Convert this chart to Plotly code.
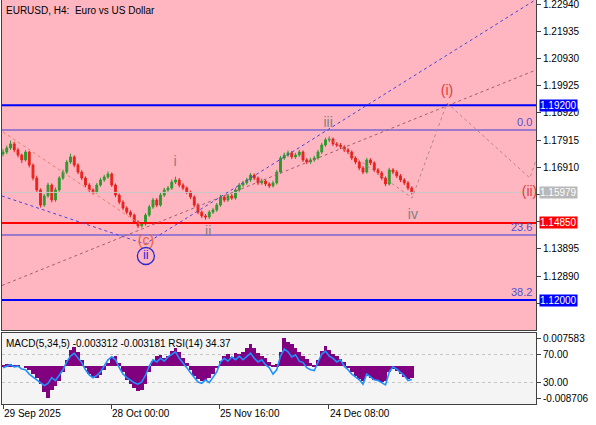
import plotly.graph_objects as go

# ---------------- data ----------------
closes = [1.1747, 1.1762, 1.1777, 1.1755, 1.1736, 1.1718, 1.1747, 1.1699, 1.1651, 1.1607,
          1.1551, 1.1585, 1.1625, 1.1570, 1.1607, 1.1651, 1.1673, 1.1710, 1.1729, 1.1699,
          1.1673, 1.1651, 1.1625, 1.1607, 1.1599, 1.1625, 1.1644, 1.1655, 1.1666, 1.1625,
          1.1588, 1.1562, 1.1540, 1.1525, 1.1514, 1.1489, 1.1474, 1.1481, 1.1514, 1.1544,
          1.1570, 1.1551, 1.1588, 1.1607, 1.1614, 1.1636, 1.1644, 1.1625, 1.1614, 1.1599,
          1.1581, 1.1551, 1.1525, 1.1511, 1.1507, 1.1525, 1.1533, 1.1551, 1.1581, 1.1570,
          1.1585, 1.1577, 1.1607, 1.1625, 1.1633, 1.1644, 1.1662, 1.1651, 1.1633, 1.1640,
          1.1629, 1.1622, 1.1633, 1.1673, 1.1725, 1.1736, 1.1744, 1.1729, 1.1736, 1.1747,
          1.1718, 1.1710, 1.1718, 1.1725, 1.1747, 1.1773, 1.1792, 1.1795, 1.1777, 1.1773,
          1.1766, 1.1755, 1.1747, 1.1725, 1.1710, 1.1688, 1.1673, 1.1718, 1.1707, 1.1681,
          1.1670, 1.1651, 1.1629, 1.1681, 1.1673, 1.1659, 1.1644, 1.1633, 1.1614, 1.15979]
highs = [1.1758, 1.1771, 1.1789, 1.1785, 1.1763, 1.1741, 1.1754, 1.1752, 1.1705, 1.1660,
         1.1613, 1.1592, 1.1634, 1.1631, 1.1616, 1.1658, 1.1682, 1.1718, 1.1741, 1.1735,
         1.1706, 1.1680, 1.1657, 1.1632, 1.1613, 1.1633, 1.1652, 1.1663, 1.1675, 1.1672,
         1.1631, 1.1594, 1.1569, 1.1547, 1.1532, 1.1520, 1.1495, 1.1487, 1.1521, 1.1552,
         1.1578, 1.1577, 1.1596, 1.1615, 1.1622, 1.1645, 1.1656, 1.1651, 1.1632, 1.1620,
         1.1605, 1.1587, 1.1558, 1.1531, 1.1518, 1.1532, 1.1541, 1.1559, 1.1589, 1.1588,
         1.1593, 1.1592, 1.1615, 1.1633, 1.1641, 1.1652, 1.1670, 1.1668, 1.1657, 1.1648,
         1.1646, 1.1635, 1.1641, 1.1681, 1.1733, 1.1745, 1.1753, 1.1751, 1.1744, 1.1755,
         1.1753, 1.1725, 1.1726, 1.1733, 1.1755, 1.1781, 1.1800, 1.1805, 1.1801, 1.1784,
         1.1780, 1.1772, 1.1762, 1.1753, 1.1731, 1.1716, 1.1695, 1.1726, 1.1724, 1.1713,
         1.1688, 1.1677, 1.1657, 1.1689, 1.1688, 1.1680, 1.1666, 1.1651, 1.1640, 1.1621]
lows = [1.1731, 1.1739, 1.1755, 1.1746, 1.1727, 1.1706, 1.1712, 1.1690, 1.1642, 1.1598,
        1.1542, 1.1545, 1.1578, 1.1561, 1.1563, 1.1600, 1.1644, 1.1666, 1.1703, 1.1691,
        1.1665, 1.1643, 1.1617, 1.1599, 1.1590, 1.1593, 1.1619, 1.1637, 1.1648, 1.1618,
        1.1580, 1.1554, 1.1532, 1.1517, 1.1506, 1.1481, 1.1466, 1.1468, 1.1475, 1.1508,
        1.1537, 1.1543, 1.1545, 1.1581, 1.1600, 1.1607, 1.1629, 1.1617, 1.1606, 1.1591,
        1.1573, 1.1543, 1.1517, 1.1503, 1.1497, 1.1500, 1.1518, 1.1526, 1.1545, 1.1562,
        1.1563, 1.1570, 1.1571, 1.1600, 1.1618, 1.1626, 1.1637, 1.1643, 1.1625, 1.1626,
        1.1621, 1.1614, 1.1616, 1.1627, 1.1667, 1.1718, 1.1729, 1.1721, 1.1722, 1.1729,
        1.1710, 1.1702, 1.1703, 1.1711, 1.1719, 1.1740, 1.1766, 1.1784, 1.1769, 1.1765,
        1.1758, 1.1747, 1.1739, 1.1717, 1.1702, 1.1680, 1.1665, 1.1667, 1.1699, 1.1673,
        1.1662, 1.1643, 1.1621, 1.1623, 1.1665, 1.1651, 1.1636, 1.1625, 1.1606, 1.1590]
first_open = 1.1740
opens = [first_open] + closes[:-1]

macd_hist = [0.0003, 0.0005, 0.0005, 0.0003, 0.0003, 0.0000, -0.0003, -0.0011, -0.0022, -0.0033,
             -0.0049, -0.0071, -0.008706, -0.0065, -0.0054, -0.0041, -0.0016, 0.0016, 0.0043, 0.0052,
             0.0038, 0.0016, -0.0005, -0.0022, -0.0030, -0.0033, -0.0024, -0.0011, 0.0008, 0.0024,
             0.0027, 0.0008, -0.0016, -0.0038, -0.0049, -0.0060, -0.0068, -0.0065, -0.0049, -0.0016,
             0.0014, 0.0027, 0.0030, 0.0022, 0.0027, 0.0041, 0.0049, 0.0038, 0.0022, 0.0008,
             -0.0011, -0.0027, -0.0035, -0.0041, -0.0038, -0.0033, -0.0022, -0.0005, 0.0014, 0.0027,
             0.0033, 0.0024, 0.0035, 0.0033, 0.0038, 0.0049, 0.0060, 0.0049, 0.0035, 0.0027,
             0.0022, 0.0011, 0.0003, 0.0005, 0.0038, 0.007583, 0.0065, 0.0060, 0.0049, 0.0038,
             0.0027, 0.0019, 0.0008, 0.0003, 0.0016, 0.0041, 0.0054, 0.0043, 0.0033, 0.0027,
             0.0019, 0.0011, -0.0003, -0.0016, -0.0027, -0.0035, -0.0041, -0.0027, -0.0033, -0.0038,
             -0.0041, -0.0043, -0.0041, -0.0016, -0.0008, -0.0014, -0.0022, -0.0030, -0.0035, -0.003312]
rsi = [50.7, 53, 55, 52, 53, 49, 48, 42, 38, 34,
       30, 26, 29, 37, 33, 40, 48, 59, 67, 71,
       64, 58, 48, 41, 37, 40, 45, 53, 62, 66,
       62, 51, 42, 37, 33, 30, 28, 31, 40, 53,
       62, 59, 64, 60, 66, 69, 73, 64, 58, 51,
       44, 37, 31, 29, 34, 30, 37, 45, 59, 64,
       60, 66, 62, 67, 62, 66, 71, 64, 59, 62,
       55, 51, 42, 48, 67, 77, 73, 66, 69, 60,
       58, 51, 48, 47, 59, 70, 74, 67, 64, 59,
       62, 53, 48, 42, 38, 34, 28, 42, 38, 34,
       33, 30, 27, 45, 52, 49, 45, 40, 33, 34.37]

date_ticks = [0, 28.8, 57.6, 86.9]
date_labels = ["29 Sep 2025", "28 Oct 00:00", "25 Nov 16:00", "24 Dec 08:00"]
price_ticks = [1.22940, 1.21935, 1.20930, 1.19925, 1.18920, 1.17915, 1.16910,
               1.15905, 1.14900, 1.13895, 1.12890, 1.11885]
# labels hidden behind the price boxes on the right
covered_ticks = [1.15905, 1.14900, 1.11885]

level_prices = [1.19200, 1.14850, 1.12000]
level_colors = ["#0000ff", "#ff0000", "#0000ff"]
fib_prices = [1.18285, 1.14405, 1.12000]
fib_labels = ["0.0", "23.6", "38.2"]
bid_price = 1.15979

# trend / wave lines (candle index, price)
blue_x = [-0.27, 37.9, 141.9]
blue_y = [1.15846, 1.14072, 1.23088]
orange_x = [0.0, 37.3]
orange_y = [1.18211, 1.14737]
channel_x = [-0.27, 142.13]
channel_y = [1.12540, 1.20502]
proj_x = [86.7, 109.1, 118.4, 140.5, 142.13]
proj_y = [1.17989, 1.15772, 1.19282, 1.16511, 1.17176]

wave_text = ["i", "ii", "iii", "iv", "(c)", "(i)", "(ii)"]
wave_x = [45.9, 54.7, 86.7, 109.3, 38.1, 118.4, 140.4]
wave_y = [1.1710, 1.1448, 1.1851, 1.1514, 1.1418, 1.1969, 1.1599]
wave_col = ["#808080", "#808080", "#808080", "#808080", "#e8603c", "#e23a3a", "#e23a3a"]
circ_x = [38.1]
circ_y = [1.1363]
circ_text = ["ii"]

X_RANGE = [-0.27, 142.13]
FONT = "Liberation Sans, Arial, sans-serif"

idx = list(range(len(closes)))

fig = go.Figure()

xr = X_RANGE
fig.add_trace(go.Scatter(x=xr, y=[bid_price, bid_price], mode="lines",
                         line=dict(color="#c8c8c8", width=1), hoverinfo="skip"))
for p in fib_prices[:2]:
    fig.add_trace(go.Scatter(x=xr, y=[p, p], mode="lines",
                             line=dict(color="#3c3cdc", width=1.2), hoverinfo="skip"))
for p, c in zip(level_prices, level_colors):
    fig.add_trace(go.Scatter(x=xr, y=[p, p], mode="lines",
                             line=dict(color=c, width=2), hoverinfo="skip"))

fig.add_trace(go.Scatter(x=channel_x, y=channel_y, mode="lines",
                         line=dict(color="#a0606e", width=1, dash="3px,3px"), hoverinfo="skip"))
fig.add_trace(go.Scatter(x=orange_x, y=orange_y, mode="lines",
                         line=dict(color="#e8806a", width=1, dash="3px,3px"), hoverinfo="skip"))
fig.add_trace(go.Scatter(x=blue_x, y=blue_y, mode="lines",
                         line=dict(color="#4444e0", width=1, dash="3px,3px"), hoverinfo="skip"))
fig.add_trace(go.Scatter(x=proj_x, y=proj_y, mode="lines",
                         line=dict(color="#b08888", width=1, dash="3px,3px"), hoverinfo="skip"))

fig.add_trace(go.Candlestick(x=idx, open=opens, high=highs, low=lows, close=closes,
                             increasing=dict(line=dict(color="#2f9a2f", width=1), fillcolor="#2f9a2f"),
                             decreasing=dict(line=dict(color="#e8231e", width=1), fillcolor="#e8231e"),
                             whiskerwidth=0, hoverinfo="skip"))

fig.add_trace(go.Scatter(x=wave_x, y=wave_y, mode="text", text=wave_text,
                         textfont=dict(family=FONT, size=14, color=wave_col), hoverinfo="skip"))
fig.add_trace(go.Scatter(x=circ_x, y=circ_y, mode="markers+text", text=circ_text,
                         marker=dict(symbol="circle-open", size=17, color="#2a2ad0",
                                     line=dict(width=1.3, color="#2a2ad0")),
                         textfont=dict(family=FONT, size=13, color="#2a2ad0"), hoverinfo="skip"))

fig.add_trace(go.Bar(x=idx, y=macd_hist, width=1, marker=dict(color="#800080", line=dict(width=0)),
                     xaxis="x2", yaxis="y2", hoverinfo="skip"))
fig.add_trace(go.Scatter(x=idx, y=rsi, mode="lines", line=dict(color="#1e90ff", width=1.6),
                         xaxis="x2", yaxis="y3", hoverinfo="skip"))

main_dom = [74 / 404, 1]
sub_dom = [0, 71 / 404]
tf = dict(family=FONT, size=10, color="black")

price_ticktext = ["" if v in covered_ticks else f"{v:.5f}" for v in price_ticks]

fig.update_layout(
    width=596, height=425,
    margin=dict(l=2, r=60, t=0, b=21, autoexpand=False),
    paper_bgcolor="white",
    plot_bgcolor="#ffb6c1",
    showlegend=False,
    bargap=0,
    font=tf,
    xaxis=dict(domain=[0, 1], anchor="y", range=X_RANGE, showticklabels=False, ticks="",
               showgrid=False, zeroline=False, showline=True, linecolor="#404040", mirror=True,
               rangeslider=dict(visible=False), automargin=False),
    yaxis=dict(domain=main_dom, anchor="x", side="right", range=[1.10895, 1.23088],
               tickvals=price_ticks, ticktext=price_ticktext, ticklabeloverflow="allow",
               ticks="outside", ticklen=4, tickcolor="#404040", showgrid=False, zeroline=False,
               showline=True, linecolor="#404040", mirror=True, tickfont=tf, automargin=False),
    xaxis2=dict(domain=[0, 1], anchor="y2", range=X_RANGE,
                tickvals=date_ticks, ticktext=date_labels, ticks="outside", ticklen=4,
                tickcolor="#404040", ticklabelposition="outside right", ticklabeloverflow="allow",
                showgrid=False, zeroline=False, showline=True, linecolor="#404040", mirror=True,
                tickfont=tf, automargin=False),
    yaxis2=dict(domain=sub_dom, anchor="x2", side="right", range=[-0.01025, 0.00902],
                tickvals=[0.007583, -0.008706], ticktext=["0.007583", "-0.008706"],
                ticks="outside", ticklen=4, tickcolor="#404040", showgrid=False, zeroline=False,
                showline=True, linecolor="#404040", mirror=True, tickfont=tf, automargin=False),
    yaxis3=dict(overlaying="y2", anchor="x2", side="right", range=[0.31, 99.27],
                tickvals=[70, 30], ticktext=["70.00", "30.00"], ticks="outside", ticklen=4,
                tickcolor="#404040", showgrid=True, gridcolor="#c4c4c4", griddash="dot",
                zeroline=False, tickfont=tf, automargin=False),
)

fig.add_shape(type="rect", xref="x2 domain", yref="y2 domain", x0=0, x1=1, y0=0, y1=1,
              fillcolor="#f4f4f4", line=dict(width=0), layer="below")

annotations = []
annotations.append(dict(xref="paper", yref="paper", x=0, y=1, xanchor="left", yanchor="top",
                        xshift=2, yshift=-3, showarrow=False,
                        text="EURUSD, H4: \u00a0Euro vs US Dollar", font=tf))
annotations.append(dict(xref="paper", yref="paper", x=0, y=sub_dom[1], xanchor="left", yanchor="top",
                        xshift=2, yshift=-3, showarrow=False,
                        text="MACD(5,34,5) -0.003312 -0.003181 RSI(14) 34.37", font=tf))
for p, lab in zip(fib_prices, fib_labels):
    annotations.append(dict(xref="paper", yref="y", x=1, y=p, xanchor="right", yanchor="bottom",
                            xshift=-2, yshift=0, showarrow=False, text=lab,
                            font=dict(family=FONT, size=11, color="#5050d0")))
box_prices = [level_prices[0], bid_price, level_prices[1], level_prices[2]]
box_colors = ["#0000ff", "#b8b8b8", "#ff0000", "#0000ff"]
for p, c in zip(box_prices, box_colors):
    annotations.append(dict(xref="paper", yref="y", x=1, y=p, xanchor="left", yanchor="middle",
                            xshift=3, showarrow=False, text=f"{p:.5f}", bgcolor=c, borderpad=0,
                            font=dict(family=FONT, size=10, color="white")))
fig.update_layout(annotations=annotations)

fig.write_html("out.html", config={"displayModeBar": False},
               post_script="document.body.style.margin='0';document.body.style.padding='0';")
